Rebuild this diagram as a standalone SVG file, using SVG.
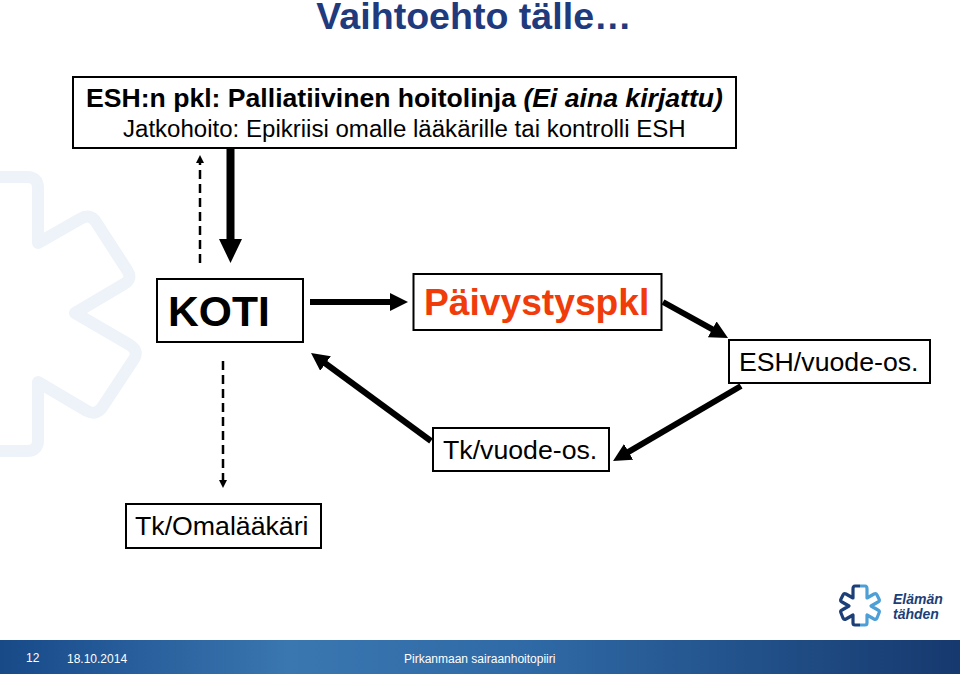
<svg xmlns="http://www.w3.org/2000/svg" width="960" height="674" viewBox="0 0 960 674">
<defs>
<linearGradient id="bar" x1="0" x2="1" y1="0" y2="0">
<stop offset="0" stop-color="#174a86"/><stop offset="0.04" stop-color="#1c4f8e"/><stop offset="0.3" stop-color="#3a76b0"/><stop offset="0.55" stop-color="#2f6aa6"/><stop offset="1" stop-color="#16396f"/>
</linearGradient>
<marker id="mid" markerUnits="userSpaceOnUse" markerWidth="18" markerHeight="18" refX="6" refY="9" orient="auto"><path d="M0 0L18 9L0 18Z" fill="#000"/></marker>
<marker id="small" markerUnits="userSpaceOnUse" markerWidth="8" markerHeight="8" refX="2" refY="4" orient="auto"><path d="M0 0L8 4L0 8Z" fill="#000"/></marker>
</defs>
<style>
text{font-family:"Liberation Sans",Arial,sans-serif}
.box{fill:#fff;stroke:#000;stroke-width:2}
.thick{fill:none;stroke:#000;stroke-width:6}
.dash{fill:none;stroke:#000;stroke-width:2.500;stroke-dasharray:9 5}
.lbl{font-size:26.700px;fill:#000}
</style>
<rect width="960" height="674" fill="#fff"/>
<g id="watermark" fill="none" stroke="#eef3f9" stroke-width="12" stroke-linejoin="round">
<path d="M-10 177H27Q38 177 38 188V243L80 219Q90 213 96 222L127 270Q133 279 124 284L75 313L130 345Q139 351 134 359L103 406Q97 416 87 411L38 382V440Q38 451 27 451H-10"/>
</g>
<text x="474" y="29" text-anchor="middle" font-size="37.600" font-weight="700" fill="#1f3a7d">Vaihtoehto tälle…</text>
<g id="connectors">
<path class="dash" d="M200 263V161" marker-end="url(#small)"/>
<path d="M230.500 149V240" fill="none" stroke="#000" stroke-width="8"/>
<path d="M219 239H242L230.500 263Z" fill="#000"/>
<path class="dash" d="M223 361V482" marker-end="url(#small)"/>
<path class="thick" d="M310 302H396" marker-end="url(#mid)"/>
<path class="thick" d="M663 302L717.500 332.200" marker-end="url(#mid)"/>
<path class="thick" d="M741 386L623.400 454.900" marker-end="url(#mid)"/>
<path class="thick" d="M431 441L320.700 360" marker-end="url(#mid)"/>
</g>
<g id="esh">
<rect class="box" x="73" y="77" width="663" height="71"/>
<text x="86" y="107" font-size="26.600" font-weight="700">ESH:n pkl: Palliatiivinen hoitolinja <tspan font-style="italic">(Ei aina kirjattu)</tspan></text>
<text x="123" y="137" font-size="24.050">Jatkohoito: Epikriisi omalle lääkärille tai kontrolli ESH</text>
</g>
<g id="koti">
<rect class="box" x="157" y="279" width="146" height="63"/>
<text x="168" y="326" font-size="42.600" font-weight="700">KOTI</text>
</g>
<g id="paivystys">
<rect class="box" x="413.500" y="274" width="248" height="56"/>
<text x="424" y="315" font-size="37.200" font-weight="700" fill="#f03c0a">Päivystyspkl</text>
</g>
<g id="eshvuode">
<rect class="box" x="729" y="340" width="201" height="43"/>
<text x="739" y="371" class="lbl">ESH/vuode-os.</text>
</g>
<g id="tkvuode">
<rect class="box" x="433" y="428" width="176" height="43"/>
<text x="443" y="459" class="lbl">Tk/vuode-os.</text>
</g>
<g id="tkoma">
<rect class="box" x="126" y="504" width="195" height="44"/>
<text x="135" y="535" class="lbl">Tk/Omalääkäri</text>
</g>
<g id="logo" fill="none" stroke-width="3.200" stroke-linejoin="round">
<path stroke="#1c3f78" d="M860 586H855Q853 586 853 589V598L846 594Q844 593 843 595L841 599Q840 601 842 602L849 606L842 610Q840 611 841 613L843 618Q844 620 846 619L853 615V623Q853 625 855 625H860"/>
<path stroke="#4d9fd6" d="M860 586H865Q867 586 867 589V598L874 594Q876 593 877 595L879 599Q880 601 878 602L871 606L878 610Q880 611 879 613L877 618Q876 620 874 619L867 615V623Q867 625 865 625H860"/>
<text x="893" y="604" font-size="14" font-weight="700" font-style="italic" fill="#1c3f78" stroke="none">Elämän</text>
<text x="893" y="619" font-size="14" font-weight="700" font-style="italic" fill="#1c3f78" stroke="none">tähden</text>
</g>
<g id="footer">
<rect y="640" width="960" height="34" fill="url(#bar)"/>
<text x="26" y="662" font-size="12" fill="#fff">12</text>
<text x="67" y="663" font-size="12" fill="#fff">18.10.2014</text>
<text x="404" y="663" font-size="12" fill="#fff">Pirkanmaan sairaanhoitopiiri</text>
</g>
</svg>
